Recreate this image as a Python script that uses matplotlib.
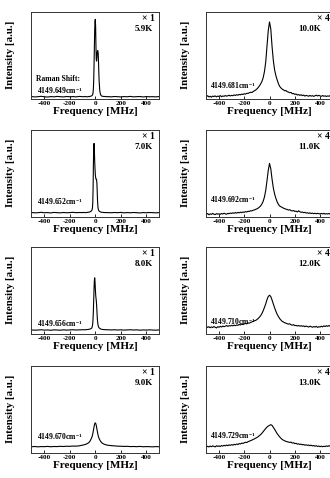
# -*- coding: utf-8 -*-
"""
Raman line shapes vs temperature, 4x2 panel figure
"""

import matplotlib
matplotlib.use('Agg')
import matplotlib.pyplot as plt

# ================================
# Data (intensity in a.u.)
# ================================
temps_left = ['5.9K', '7.0K', '8.0K', '9.0K']
temps_right = ['10.0K', '11.0K', '12.0K', '13.0K']
shifts_left = ['4149.649', '4149.652', '4149.656', '4149.670']
shifts_right = ['4149.681', '4149.692', '4149.710', '4149.729']
scale_left = '× 1'
scale_right = '× 4'

# frequency grid of the narrow (left) spectra, MHz
freq_left = [-500, -475, -450, -425, -400, -375, -350, -325, -300, -275, -250,
             -225, -200, -175, -150, -125, -100, -90, -80, -70, -60, -50, -45,
             -40, -35, -30, -27.5, -25, -22.5, -20, -17.5, -15, -12.5, -10,
             -7.5, -5, -2.5, 0, 2.5, 5, 7.5, 10, 12.5, 15, 17.5, 20, 22.5, 25,
             27.5, 30, 35, 40, 45, 50, 60, 70, 80, 90, 100, 125, 150, 175, 200,
             225, 250, 275, 300, 325, 350, 375, 400, 425, 450, 475, 500]

spec_59K = [0.022, 0.018, 0.021, 0.025, 0.020, 0.017, 0.022, 0.019, 0.024, 0.021,
            0.018, 0.023, 0.020, 0.022, 0.019, 0.024, 0.021, 0.020, 0.023, 0.021,
            0.019, 0.024, 0.022, 0.025, 0.027, 0.030, 0.032, 0.035, 0.040, 0.050,
            0.070, 0.120, 0.220, 0.380, 0.580, 0.780, 0.890, 0.910, 0.820, 0.600,
            0.450, 0.430, 0.470, 0.530, 0.550, 0.550, 0.520, 0.420, 0.300, 0.200,
            0.090, 0.050, 0.035, 0.028, 0.025, 0.022, 0.024, 0.020, 0.022, 0.019,
            0.023, 0.021, 0.018, 0.022, 0.020, 0.024, 0.019, 0.021, 0.023, 0.018,
            0.022, 0.020, 0.021, 0.019, 0.022]

spec_70K = [0.046, 0.042, 0.044, 0.048, 0.043, 0.045, 0.041, 0.047, 0.044, 0.042,
            0.046, 0.043, 0.045, 0.048, 0.044, 0.046, 0.045, 0.047, 0.044, 0.046,
            0.048, 0.050, 0.052, 0.055, 0.060, 0.065, 0.070, 0.080, 0.100, 0.160,
            0.320, 0.600, 0.820, 0.840, 0.760, 0.640, 0.550, 0.480, 0.450, 0.430,
            0.430, 0.420, 0.380, 0.280, 0.180, 0.120, 0.090, 0.075, 0.068, 0.062,
            0.057, 0.053, 0.050, 0.049, 0.047, 0.045, 0.046, 0.044, 0.045, 0.043,
            0.046, 0.044, 0.047, 0.042, 0.045, 0.043, 0.046, 0.044, 0.041, 0.045,
            0.043, 0.046, 0.044, 0.042, 0.045]

spec_80K = [0.041, 0.038, 0.040, 0.043, 0.039, 0.041, 0.037, 0.042, 0.040, 0.038,
            0.042, 0.039, 0.041, 0.043, 0.040, 0.042, 0.043, 0.044, 0.042, 0.045,
            0.046, 0.048, 0.050, 0.052, 0.056, 0.060, 0.065, 0.075, 0.090, 0.120,
            0.180, 0.270, 0.400, 0.520, 0.610, 0.640, 0.600, 0.520, 0.450, 0.410,
            0.380, 0.330, 0.260, 0.190, 0.140, 0.110, 0.090, 0.078, 0.070, 0.065,
            0.058, 0.053, 0.050, 0.048, 0.046, 0.044, 0.045, 0.042, 0.043, 0.041,
            0.043, 0.040, 0.042, 0.039, 0.041, 0.043, 0.040, 0.042, 0.038, 0.041,
            0.039, 0.042, 0.040, 0.038, 0.041]

spec_90K = [0.066, 0.069, 0.065, 0.068, 0.067, 0.070, 0.066, 0.069, 0.068, 0.071,
            0.069, 0.072, 0.071, 0.074, 0.073, 0.077, 0.085, 0.088, 0.092, 0.097,
            0.105, 0.115, 0.125, 0.135, 0.150, 0.165, 0.175, 0.185, 0.200, 0.215,
            0.235, 0.255, 0.275, 0.295, 0.315, 0.330, 0.338, 0.340, 0.335, 0.325,
            0.310, 0.290, 0.270, 0.250, 0.230, 0.210, 0.195, 0.180, 0.170, 0.160,
            0.145, 0.132, 0.122, 0.113, 0.102, 0.095, 0.090, 0.086, 0.083, 0.079,
            0.076, 0.073, 0.072, 0.070, 0.071, 0.068, 0.069, 0.067, 0.070, 0.066,
            0.068, 0.067, 0.065, 0.068, 0.066]

# frequency grid of the broad (right) spectra, MHz
freq_right = [-500, -490, -480, -470, -460, -450, -440, -430, -420, -410,
              -400, -390, -380, -370, -360, -350, -340, -330, -320, -310,
              -300, -290, -280, -270, -260, -250, -240, -230, -220, -210,
              -200, -190, -180, -170, -160, -150, -140, -130, -120, -110,
              -100, -90, -80, -70, -60, -50, -40, -30, -20, -10,
              0, 10, 20, 30, 40, 50, 60, 70, 80, 90,
              100, 110, 120, 130, 140, 150, 160, 170, 180, 190,
              200, 210, 220, 230, 240, 250, 260, 270, 280, 290,
              300, 310, 320, 330, 340, 350, 360, 370, 380, 390,
              400, 410, 420, 430, 440, 450, 460, 470, 480, 490, 500]

spec_100K = [0.020, 0.032, 0.018, 0.026, 0.015, 0.028, 0.022, 0.030, 0.019, 0.027,
             0.024, 0.033, 0.021, 0.029, 0.025, 0.034, 0.027, 0.031, 0.038, 0.029,
             0.036, 0.032, 0.041, 0.035, 0.044, 0.038, 0.047, 0.042, 0.051, 0.046,
             0.055, 0.050, 0.060, 0.058, 0.066, 0.072, 0.068, 0.080, 0.088, 0.097,
             0.110, 0.125, 0.145, 0.168, 0.196, 0.240, 0.310, 0.420, 0.600, 0.780,
             0.880, 0.800, 0.600, 0.440, 0.330, 0.265, 0.216, 0.172, 0.140, 0.122,
             0.108, 0.100, 0.088, 0.092, 0.078, 0.074, 0.066, 0.070, 0.055, 0.058,
             0.047, 0.052, 0.040, 0.046, 0.036, 0.043, 0.033, 0.039, 0.028, 0.036,
             0.031, 0.026, 0.035, 0.027, 0.033, 0.024, 0.032, 0.038, 0.029, 0.036,
             0.030, 0.025, 0.034, 0.026, 0.031, 0.023, 0.030, 0.026, 0.033, 0.024, 0.028]

spec_110K = [0.025, 0.034, 0.020, 0.030, 0.024, 0.036, 0.026, 0.022, 0.033, 0.027,
             0.031, 0.024, 0.035, 0.028, 0.038, 0.030, 0.026, 0.036, 0.032, 0.040,
             0.035, 0.042, 0.037, 0.045, 0.039, 0.047, 0.042, 0.050, 0.044, 0.052,
             0.048, 0.056, 0.052, 0.060, 0.058, 0.066, 0.064, 0.072, 0.075, 0.082,
             0.088, 0.096, 0.108, 0.122, 0.145, 0.175, 0.225, 0.300, 0.410, 0.530,
             0.610, 0.550, 0.430, 0.330, 0.260, 0.210, 0.170, 0.140, 0.122, 0.112,
             0.105, 0.096, 0.090, 0.085, 0.080, 0.074, 0.078, 0.068, 0.064, 0.069,
             0.058, 0.062, 0.052, 0.066, 0.055, 0.048, 0.052, 0.044, 0.048, 0.040,
             0.043, 0.036, 0.042, 0.034, 0.039, 0.032, 0.038, 0.031, 0.036, 0.033,
             0.029, 0.035, 0.030, 0.036, 0.028, 0.033, 0.029, 0.035, 0.027, 0.032, 0.030]

spec_120K = [0.082, 0.070, 0.078, 0.066, 0.076, 0.068, 0.080, 0.072, 0.064, 0.078,
             0.072, 0.082, 0.074, 0.086, 0.078, 0.084, 0.092, 0.082, 0.090, 0.086,
             0.094, 0.088, 0.096, 0.090, 0.098, 0.094, 0.104, 0.098, 0.108, 0.102,
             0.110, 0.116, 0.110, 0.122, 0.118, 0.128, 0.132, 0.140, 0.146, 0.150,
             0.160, 0.172, 0.188, 0.205, 0.230, 0.262, 0.300, 0.340, 0.390, 0.425,
             0.440, 0.425, 0.385, 0.340, 0.296, 0.258, 0.222, 0.196, 0.172, 0.155,
             0.140, 0.132, 0.124, 0.118, 0.112, 0.108, 0.112, 0.100, 0.096, 0.102,
             0.090, 0.094, 0.086, 0.092, 0.084, 0.090, 0.082, 0.088, 0.078, 0.086,
             0.080, 0.074, 0.084, 0.078, 0.072, 0.080, 0.074, 0.082, 0.070, 0.078,
             0.074, 0.084, 0.076, 0.088, 0.080, 0.090, 0.082, 0.092, 0.084, 0.094, 0.088]

spec_130K = [0.062, 0.072, 0.064, 0.074, 0.066, 0.076, 0.070, 0.064, 0.078, 0.070,
             0.076, 0.068, 0.080, 0.074, 0.082, 0.076, 0.086, 0.078, 0.088, 0.082,
             0.090, 0.084, 0.094, 0.088, 0.098, 0.092, 0.102, 0.098, 0.108, 0.104,
             0.112, 0.118, 0.114, 0.124, 0.130, 0.136, 0.142, 0.150, 0.156, 0.164,
             0.172, 0.182, 0.194, 0.206, 0.222, 0.240, 0.258, 0.276, 0.292, 0.304,
             0.312, 0.320, 0.312, 0.290, 0.268, 0.242, 0.218, 0.198, 0.180, 0.164,
             0.150, 0.142, 0.134, 0.128, 0.124, 0.120, 0.116, 0.120, 0.108, 0.112,
             0.102, 0.106, 0.096, 0.100, 0.092, 0.096, 0.088, 0.092, 0.084, 0.088,
             0.082, 0.086, 0.078, 0.084, 0.076, 0.080, 0.072, 0.078, 0.070, 0.074,
             0.067, 0.073, 0.066, 0.072, 0.068, 0.076, 0.070, 0.078, 0.072, 0.078, 0.075]

spectra_left = [spec_59K, spec_70K, spec_80K, spec_90K]
spectra_right = [spec_100K, spec_110K, spec_120K, spec_130K]

# ================================
# Style
# ================================
FONT = 'Liberation Serif'
plt.rcParams['font.family'] = FONT
plt.rcParams['font.weight'] = 'bold'
plt.rcParams['axes.unicode_minus'] = False
plt.rcParams['mathtext.fontset'] = 'custom'
plt.rcParams['mathtext.rm'] = 'Liberation Serif:bold'
plt.rcParams['mathtext.bf'] = 'Liberation Serif:bold'
plt.rcParams['mathtext.it'] = 'Liberation Serif:bold:italic'

W, H = 330, 478
fig = plt.figure(figsize=(W / 100, H / 100), dpi=100)

# panel boxes in pixels
col_left = [31, 205.7]
col_width = [128, 127]
row_top = [11.5, 129.5, 246.5, 365.5]
row_h = 87

note_y_left = [0.09, 0.17, 0.12, 0.18]
note_y_right = [0.15, 0.20, 0.14, 0.19]


def draw_panel(ax, freq, spec, scale, temp, shift, note_y, first=False, right=False):
    ax.plot(freq, spec, color='black', lw=0.8)
    ax.set_xlim(-505, 500)
    ax.set_ylim(0, 1)
    ax.set_yticks([])
    ax.set_xticks([-400, -200, 0, 200, 400])
    ax.tick_params(axis='x', direction='in', length=2.5, width=0.6,
                   labelsize=5.2, pad=1.5)
    for lab in ax.get_xticklabels():
        lab.set_fontweight('bold')
    for s in ax.spines.values():
        s.set_linewidth(0.7)
        s.set_color('#333333')
    ax.set_xlabel('Frequency [MHz]', fontsize=8, fontweight='bold', labelpad=1)
    ax.set_ylabel('Intensity [a.u.]', fontsize=7.8, fontweight='bold')
    ax.yaxis.set_label_coords(-0.125, 0.5)

    if right:
        ax.text(0.975, 0.925, scale, transform=ax.transAxes, ha='right', va='center',
                fontsize=7, fontweight='bold')
        ax.text(0.905, 0.80, temp, transform=ax.transAxes, ha='right', va='center',
                fontsize=6.5, fontweight='bold')
    else:
        ax.text(0.97, 0.925, scale, transform=ax.transAxes, ha='right', va='center',
                fontsize=7, fontweight='bold')
        ax.text(0.955, 0.80, temp, transform=ax.transAxes, ha='right', va='center',
                fontsize=6.5, fontweight='bold')

    x0 = 0.03 if right else 0.045
    ax.text(x0, note_y, shift + 'cm$^{-1}$', transform=ax.transAxes,
            ha='left', va='center', fontsize=5.5, fontweight='bold')
    if first:
        ax.text(0.04, note_y + 0.13, 'Raman Shift:', transform=ax.transAxes,
                ha='left', va='center', fontsize=5.5, fontweight='bold')


for r in range(4):
    for c in range(2):
        left = col_left[c] / W
        bottom = 1 - (row_top[r] + row_h) / H
        ax = fig.add_axes([left, bottom, col_width[c] / W, row_h / H])
        if c == 0:
            draw_panel(ax, freq_left, spectra_left[r], scale_left, temps_left[r],
                       shifts_left[r], note_y_left[r], first=(r == 0))
        else:
            draw_panel(ax, freq_right, spectra_right[r], scale_right, temps_right[r],
                       shifts_right[r], note_y_right[r], right=True)

fig.savefig('out.png', dpi=100)
